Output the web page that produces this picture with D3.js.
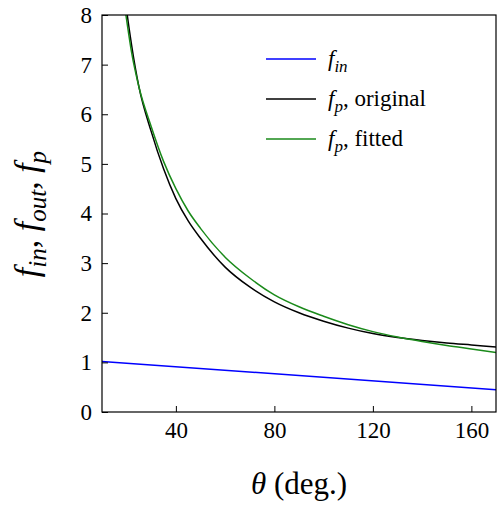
<!DOCTYPE html>
<html><head><meta charset="utf-8">
<script src="https://cdn.jsdelivr.net/npm/d3@7"></script>
<style>body{margin:0;background:#fff}text{font-family:"Liberation Serif",serif;fill:#000}</style>
</head><body><svg id="c" width="497" height="511"></svg>
<script>
var thetaOrig = [18, 20, 22, 25, 30, 35, 40, 45, 50, 60, 70, 80, 90, 100, 110, 120, 130, 140, 150, 160, 170];
var fpOrig =    [9.0, 8.1, 7.4, 6.55, 5.65, 4.9, 4.3, 3.85, 3.5, 2.92, 2.52, 2.22, 2.0, 1.83, 1.69, 1.58, 1.5, 1.44, 1.39, 1.35, 1.31];
var thetaFit =  [18, 20, 22, 25, 30, 35, 40, 45, 50, 60, 70, 80, 90, 100, 110, 120, 130, 140, 150, 160, 170];
var fpFit =     [8.6, 7.9, 7.25, 6.55, 5.75, 5.05, 4.5, 4.05, 3.7, 3.12, 2.7, 2.36, 2.12, 1.93, 1.76, 1.62, 1.51, 1.42, 1.34, 1.27, 1.2];
var thetaIn = [10, 170];
var fIn = [1.02, 0.45];
var xTicks = [40, 80, 120, 160];
var yTicks = [0, 1, 2, 3, 4, 5, 6, 7, 8];

var svg = d3.select('#c');
var L = 102, R = 496, T = 15, B = 412;
var x = d3.scaleLinear().domain([10, 170]).range([L, R]);
var y = d3.scaleLinear().domain([0, 8]).range([B, T]);

svg.append('clipPath').attr('id', 'clip').append('rect')
	.attr('x', L).attr('y', T).attr('width', R - L).attr('height', B - T);

var line = d3.line().x(function(d){ return x(d[0]); }).y(function(d){ return y(d[1]); }).curve(d3.curveMonotoneX);
var series = [
	{ t: thetaIn, v: fIn, color: '#0000ff' },
	{ t: thetaOrig, v: fpOrig, color: '#000000' },
	{ t: thetaFit, v: fpFit, color: '#1a8a1a' }
];
series.forEach(function(s){
	svg.append('path').attr('clip-path', 'url(#clip)')
		.attr('d', line(s.t.map(function(t, i){ return [t, s.v[i]]; })))
		.attr('fill', 'none').attr('stroke', s.color).attr('stroke-width', 1.5);
});

var gx = svg.append('g').attr('transform', 'translate(0,' + B + ')')
	.call(d3.axisBottom(x).tickValues(xTicks).tickSize(-6).tickPadding(10));
var gy = svg.append('g').attr('transform', 'translate(' + L + ',0)')
	.call(d3.axisLeft(y).tickValues(yTicks).tickSize(-6).tickPadding(10));
[gx, gy].forEach(function(g){
	g.select('.domain').remove();
	g.selectAll('line').attr('stroke', '#000');
	g.selectAll('text').style('font-size', '23px').attr('font-family', 'Liberation Serif');
});
svg.append('rect').attr('x', L).attr('y', T).attr('width', R - L).attr('height', B - T)
	.attr('fill', 'none').attr('stroke', '#000').attr('stroke-width', 1.2);

// legend
var leg = [
	{ color: '#0000ff', sub: 'in', rest: '' },
	{ color: '#000000', sub: 'p', rest: ', original' },
	{ color: '#1a8a1a', sub: 'p', rest: ', fitted' }
];
leg.forEach(function(d, i){
	var yy = 59 + i * 40;
	svg.append('line').attr('x1', 266).attr('x2', 316).attr('y1', yy).attr('y2', yy)
		.attr('stroke', d.color).attr('stroke-width', 1.5);
	var t = svg.append('text').attr('x', 328).attr('y', yy + 7).style('font-size', '23px');
	t.append('tspan').attr('font-style', 'italic').text('f');
	t.append('tspan').attr('font-style', 'italic').attr('dy', 6).style('font-size', '17px').text(d.sub);
	t.append('tspan').attr('dy', -6).text(d.rest);
});

// axis labels
var xl = svg.append('text').attr('x', 299).attr('y', 494).attr('text-anchor', 'middle').style('font-size', '31px');
xl.append('tspan').attr('font-style', 'italic').text('θ');
xl.append('tspan').text(' (deg.)');

var yl = svg.append('text').attr('transform', 'translate(38,214) rotate(-90)').attr('text-anchor', 'middle').style('font-size', '34px');
[['in', ', '], ['out', ', '], ['p', '']].forEach(function(p){
	yl.append('tspan').attr('font-style', 'italic').text('f');
	yl.append('tspan').attr('font-style', 'italic').attr('dy', 8).style('font-size', '25px').text(p[0]);
	yl.append('tspan').attr('dy', -8).text(p[1]);
});
</script></body></html>
